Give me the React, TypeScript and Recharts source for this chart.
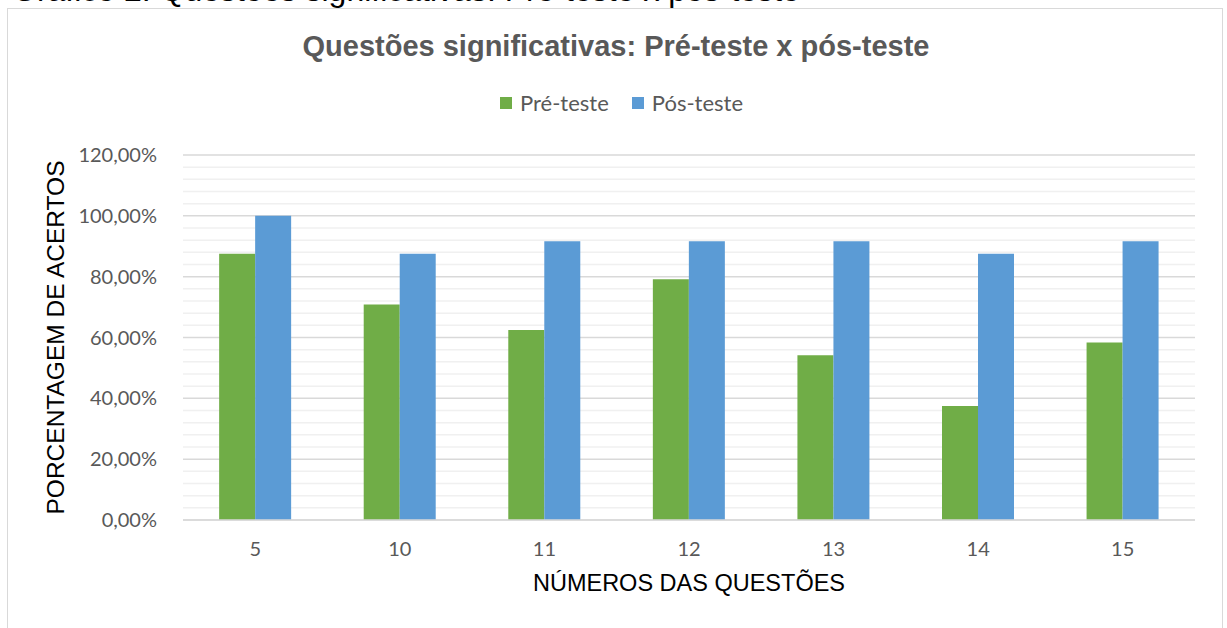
import React from 'react';
import { BarChart, Bar, XAxis, YAxis, CartesianGrid, Label } from 'recharts';

const categories = ['5', '10', '11', '12', '13', '14', '15'];
const preTeste = [0.875, 0.7083, 0.625, 0.7917, 0.5417, 0.375, 0.5833];
const posTeste = [1.0, 0.875, 0.9167, 0.9167, 0.9167, 0.875, 0.9167];
const yTicks = [0, 0.2, 0.4, 0.6, 0.8, 1.0, 1.2];
const minorTicks = [
  0.04, 0.08, 0.12, 0.16,
  0.24, 0.28, 0.32, 0.36,
  0.44, 0.48, 0.52, 0.56,
  0.64, 0.68, 0.72, 0.76,
  0.84, 0.88, 0.92, 0.96,
  1.04, 1.08, 1.12, 1.16,
];

const data = categories.map((c, i) => ({ q: c, pre: preTeste[i], pos: posTeste[i] }));

const GREEN = '#70ad47';
const BLUE = '#5b9bd5';
const TICK_FONT = 'Lato, "Open Sans", sans-serif';
const ARIAL = '"Liberation Sans", Arial, sans-serif';

const fmt = (v: number) => (v * 100).toFixed(2).replace('.', ',') + '%';

export default function App() {
  return (
    <div style={{ position: 'absolute', left: 0, top: 0, width: 1227, height: 628, background: '#fff', overflow: 'hidden' }}>
      <div
        style={{
          position: 'absolute', left: 7, top: 8, width: 1216, height: 640,
          border: '1.5px solid #d9d9d9', boxSizing: 'border-box',
        }}
      />
      <div
        style={{
          position: 'absolute', left: 12, top: -26.5, fontFamily: ARIAL, fontSize: 32,
          color: '#000', whiteSpace: 'nowrap', lineHeight: '32px',
        }}
      >
        Gráfico 2: Questões significativas: Pré-teste x pós-teste
      </div>
      <div
        style={{
          position: 'absolute', left: 0, width: 1232, top: 28, textAlign: 'center',
          fontFamily: ARIAL, fontWeight: 'bold', fontSize: 29, color: '#595959', lineHeight: '36px',
        }}
      >
        Questões significativas: Pré-teste x pós-teste
      </div>
      <div
        style={{
          position: 'absolute', left: 500, top: 89, display: 'flex', alignItems: 'center',
          fontFamily: TICK_FONT, fontSize: 22, color: '#595959', lineHeight: '28px',
        }}
      >
        <span style={{ width: 12, height: 12, background: GREEN, display: 'inline-block', marginRight: 8 }} />
        <span>Pré-teste</span>
        <span style={{ width: 12, height: 12, background: BLUE, display: 'inline-block', marginLeft: 23, marginRight: 8 }} />
        <span>Pós-teste</span>
      </div>
      <div style={{ position: 'absolute', left: 0, top: 0 }}>
        <BarChart
          width={1227}
          height={628}
          data={data}
          margin={{ top: 155, right: 32, bottom: 0, left: 0 }}
          barGap={0}
          barCategoryGap="25%"
        >
          <CartesianGrid
            vertical={false}
            horizontalValues={minorTicks}
            stroke="#f0f0f0"
            strokeWidth={1.5}
          />
          <CartesianGrid vertical={false} stroke="#d9d9d9" strokeWidth={1.5} />
          <XAxis
            dataKey="q"
            axisLine={{ stroke: '#d9d9d9', strokeWidth: 1.5 }}
            tickLine={false}
            tickMargin={16}
            tick={{ fill: '#595959', fontSize: 20, fontFamily: TICK_FONT }}
            height={108}
          >
            <Label
              value="NÚMEROS DAS QUESTÕES"
              position="insideTop"
              offset={54}
              style={{ fill: '#000', fontSize: 23.5, fontFamily: ARIAL }}
            />
          </XAxis>
          <YAxis
            width={183}
            domain={[0, 1.2]}
            ticks={yTicks}
            tickFormatter={fmt}
            axisLine={false}
            tickLine={false}
            tickMargin={20}
            interval={0}
            tick={{ fill: '#595959', fontSize: 20, fontFamily: TICK_FONT }}
          >
            <Label
              value="PORCENTAGEM DE ACERTOS"
              angle={-90}
              position="insideLeft"
              offset={55}
              style={{ fill: '#000', fontSize: 24.5, fontFamily: ARIAL, textAnchor: 'middle' }}
            />
          </YAxis>
          <Bar dataKey="pre" fill={GREEN} isAnimationActive={false} />
          <Bar dataKey="pos" fill={BLUE} isAnimationActive={false} />
        </BarChart>
      </div>
    </div>
  );
}
